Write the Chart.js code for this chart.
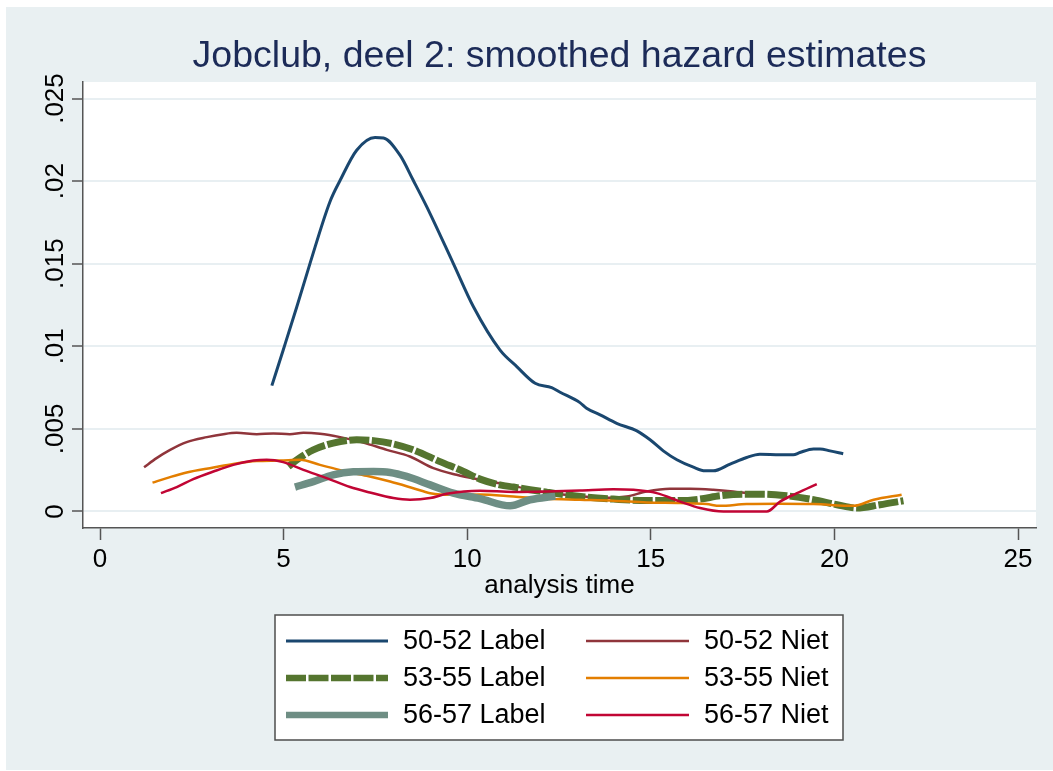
<!DOCTYPE html>
<html>
<head>
<meta charset="utf-8">
<script src="https://cdn.jsdelivr.net/npm/chart.js@4.4.1/dist/chart.umd.min.js"></script>
<style>
  html, body { margin: 0; padding: 0; background: #ffffff; }
  #wrap { width: 1053px; height: 771px; position: relative; }
  canvas { display: block; }
</style>
</head>
<body>
<div id="wrap"><canvas id="c" width="1053" height="771"></canvas></div>
<script>
// ---------- data ----------
const seriesNames = ['50-52 Label', '50-52 Niet', '53-55 Label', '53-55 Niet', '56-57 Label', '56-57 Niet'];

const label5052T = [4.68,4.99,5.36,5.72,6.26,6.54,6.99,7.49,7.72,8.17,8.53,8.90,9.62,10.17,10.89,11.35,11.85,12.30,12.53,13.07,13.25,13.62,14.07,14.62,14.98,15.34,15.71,16.16,16.48,16.70,17.16,17.61,17.97,18.52,18.88,19.06,19.43,19.61,19.88,20.24];
const label5052H = [0.00762,0.00978,0.01239,0.01502,0.01874,0.02005,0.02187,0.02264,0.02261,0.02157,0.02005,0.01844,0.01502,0.01239,0.00978,0.00877,0.00776,0.00750,0.00722,0.00659,0.00625,0.00585,0.00534,0.00488,0.00434,0.00367,0.00313,0.00268,0.00246,0.00246,0.00287,0.00327,0.00347,0.00343,0.00343,0.00357,0.00379,0.00379,0.00367,0.00349];

const niet5052T = [1.20,1.54,1.91,2.36,2.91,3.36,3.72,4.27,4.72,5.17,5.54,5.99,6.54,7.17,7.81,8.44,9.08,9.71,10.35,11.25,12.0,13.0,13.7,14.34,14.89,15.52,16.07,16.70,17.24,17.6];
const niet5052H = [0.00268,0.00323,0.00373,0.00420,0.00450,0.00468,0.00476,0.00468,0.00472,0.00468,0.00476,0.00470,0.00450,0.00417,0.00373,0.00333,0.00262,0.00222,0.00192,0.00155,0.0012,0.00095,0.00083,0.00091,0.00121,0.00137,0.00137,0.00131,0.00121,0.00112];

const label5355T = [5.13,5.36,5.81,6.35,6.99,7.45,7.99,8.53,9.26,9.90,10.35,10.89,11.26,11.71,12.16,12.44,13.25,13.98,14.89,15.80,16.34,16.88,17.52,18.07,18.70,19.43,20.07,20.61,21.24,21.88];
const label5355H = [0.00272,0.00313,0.00373,0.00414,0.00434,0.00429,0.00409,0.00373,0.00302,0.00242,0.00196,0.00161,0.00148,0.00132,0.00117,0.00108,0.00087,0.00075,0.00066,0.00066,0.00075,0.00095,0.00105,0.00105,0.00095,0.00071,0.00041,0.00021,0.00041,0.00065];

const niet5355T = [1.43,1.82,2.36,3.09,3.63,4.27,4.90,5.45,5.99,6.63,7.26,7.90,8.53,8.99,9.62,10.35,11.26,12.16,13.07,13.98,14.89,15.80,16.52,16.88,17.61,18.52,19.43,20.52,21.07,21.83];
const niet5355H = [0.00175,0.00202,0.00236,0.00266,0.00288,0.00305,0.00308,0.00313,0.00282,0.00246,0.00216,0.00181,0.00141,0.00111,0.00101,0.00103,0.00091,0.00077,0.00071,0.00065,0.00054,0.00051,0.00045,0.00034,0.00045,0.00047,0.00045,0.00034,0.00071,0.00101];

const label5657T = [5.31,5.81,6.35,6.90,7.45,7.90,8.35,8.99,9.62,10.35,11.17,11.71,12.40];
const label5657H = [0.00148,0.00181,0.00222,0.00240,0.00242,0.00236,0.00212,0.00161,0.00111,0.00078,0.00034,0.00071,0.00093];

const niet5657T = [1.66,2.09,2.54,3.09,3.63,4.18,4.54,4.99,5.54,6.17,6.81,7.35,7.99,8.44,8.99,9.44,10.35,11.26,12.16,13.07,13.98,14.52,15.16,15.80,16.34,16.98,18.16,18.52,18.98,19.52];
const niet5657H = [0.00111,0.00148,0.00196,0.00242,0.00282,0.00308,0.00313,0.00299,0.00252,0.00202,0.00148,0.00115,0.00081,0.00071,0.00081,0.00107,0.00126,0.00118,0.00121,0.00127,0.00135,0.00131,0.00111,0.00060,0.00021,0.0,0.0,0.0006,0.00111,0.00166];

const xTickValues = [0, 5, 10, 15, 20, 25];
const xTickLabels = ['0', '5', '10', '15', '20', '25'];
const yTickValues = [0, 0.005, 0.01, 0.015, 0.02, 0.025];
const yTickLabels = ['0', '.005', '.01', '.015', '.02', '.025'];

// ---------- styles ----------
const FONT = "'Liberation Sans', Arial, sans-serif";
const BG = '#e9f0f2';
const GRID = '#e8eff2';
const AXIS = '#555555';
const styles = [
  { color: '#1a476f', width: 3,   dash: [] },
  { color: '#90353b', width: 2.5, dash: [] },
  { color: '#55752f', width: 7,   dash: [20, 2.5] },
  { color: '#e37e00', width: 2.5, dash: [] },
  { color: '#6e8e84', width: 7.5, dash: [] },
  { color: '#c10534', width: 2.5, dash: [] }
];

function pts(t, h) { return t.map((v, i) => ({ x: v, y: h[i] })); }
const seriesData = [
  pts(label5052T, label5052H),
  pts(niet5052T, niet5052H),
  pts(label5355T, label5355H),
  pts(niet5355T, niet5355H),
  pts(label5657T, label5657H),
  pts(niet5657T, niet5657H)
];

const datasets = seriesData.map((d, i) => ({
  label: seriesNames[i],
  data: d,
  borderColor: styles[i].color,
  backgroundColor: styles[i].color,
  borderWidth: styles[i].width,
  borderDash: styles[i].dash,
  borderCapStyle: 'butt',
  borderJoinStyle: 'round',
  pointRadius: 0,
  pointHoverRadius: 0,
  fill: false,
  cubicInterpolationMode: 'monotone',
  order: 6 - i
}));

// ---------- plugins ----------
const bgPlugin = {
  id: 'bgPlugin',
  beforeDraw(chart) {
    const ctx = chart.ctx, a = chart.chartArea;
    ctx.save();
    ctx.fillStyle = '#ffffff';
    ctx.fillRect(0, 0, chart.width, chart.height);
    ctx.fillStyle = BG;
    ctx.fillRect(6, 7, chart.width - 6, 763);
    ctx.fillStyle = '#ffffff';
    ctx.fillRect(a.left, a.top, a.right - a.left, a.bottom - a.top);
    ctx.restore();
  }
};

const legendPlugin = {
  id: 'boxLegend',
  afterDraw(chart) {
    const ctx = chart.ctx;
    const box = { x: 275, y: 615, w: 568, h: 125 };
    ctx.save();
    ctx.fillStyle = '#ffffff';
    ctx.fillRect(box.x, box.y, box.w, box.h);
    ctx.strokeStyle = '#4d4d4d';
    ctx.lineWidth = 1.5;
    ctx.strokeRect(box.x, box.y, box.w, box.h);
    const rows = [641, 678, 715];
    const cols = [{ x0: 286, x1: 388, tx: 403 }, { x0: 586, x1: 689, tx: 704 }];
    ctx.font = '27px ' + FONT;
    ctx.textBaseline = 'middle';
    ctx.textAlign = 'left';
    for (let i = 0; i < seriesNames.length; i++) {
      const r = Math.floor(i / 2), c = i % 2;
      const st = styles[i];
      const y = rows[r];
      ctx.beginPath();
      ctx.strokeStyle = st.color;
      ctx.lineWidth = Math.min(st.width, 6.5);
      ctx.lineCap = 'butt';
      ctx.setLineDash(st.dash);
      ctx.moveTo(cols[c].x0, y);
      ctx.lineTo(cols[c].x1, y);
      ctx.stroke();
      ctx.setLineDash([]);
      ctx.fillStyle = '#000000';
      ctx.fillText(seriesNames[i], cols[c].tx, y + 1);
    }
    ctx.restore();
  }
};

// ---------- chart ----------
new Chart(document.getElementById('c'), {
  type: 'line',
  data: { datasets },
  plugins: [bgPlugin, legendPlugin],
  options: {
    responsive: false,
    devicePixelRatio: 1,
    animation: false,
    events: [],
    layout: { padding: { left: 0, right: 17, top: 0, bottom: 172 } },
    plugins: {
      legend: { display: false },
      tooltip: { enabled: false },
      title: {
        display: true,
        text: 'Jobclub, deel 2: smoothed hazard estimates',
        color: '#1c2b58',
        font: { family: FONT, size: 37.5, weight: 'normal', lineHeight: 1 },
        padding: { top: 38, bottom: 6.5 },
        fullSize: false
      }
    },
    scales: {
      x: {
        type: 'linear',
        min: -0.463,
        max: 25.49,
        afterBuildTicks: s => { s.ticks = xTickValues.map(v => ({ value: v })); },
        afterFit: s => { s.height = 71; },
        ticks: {
          color: '#000000',
          font: { family: FONT, size: 26, lineHeight: 1 },
          padding: 7,
          maxRotation: 0,
          minRotation: 0,
          autoSkip: false,
          callback: (v) => { const k = xTickValues.indexOf(v); return k >= 0 ? xTickLabels[k] : ''; }
        },
        grid: { display: true, drawOnChartArea: false, drawTicks: true, tickLength: 12, tickColor: AXIS, tickWidth: 1.5 },
        border: { display: true, color: AXIS, width: 1.5 },
        title: {
          display: true,
          text: 'analysis time',
          color: '#000000',
          font: { family: FONT, size: 26, lineHeight: 1 },
          padding: { top: 0, bottom: 0 }
        }
      },
      y: {
        type: 'linear',
        min: -0.001,
        max: 0.026,
        afterBuildTicks: s => { s.ticks = yTickValues.map(v => ({ value: v })); },
        afterFit: s => { s.width = 83; },
        ticks: {
          color: '#000000',
          font: { family: FONT, size: 26, lineHeight: 1 },
          padding: -9,
          minRotation: 90,
          maxRotation: 90,
          crossAlign: 'center',
          autoSkip: false,
          callback: (v) => { const k = yTickValues.findIndex(t => Math.abs(t - v) < 1e-9); return k >= 0 ? yTickLabels[k] : ''; }
        },
        grid: { display: true, drawOnChartArea: true, color: GRID, lineWidth: 2, drawTicks: true, tickLength: 11, tickColor: AXIS, tickWidth: 1.5 },
        border: { display: true, color: AXIS, width: 1.5 }
      }
    }
  }
});
</script>
</body>
</html>
